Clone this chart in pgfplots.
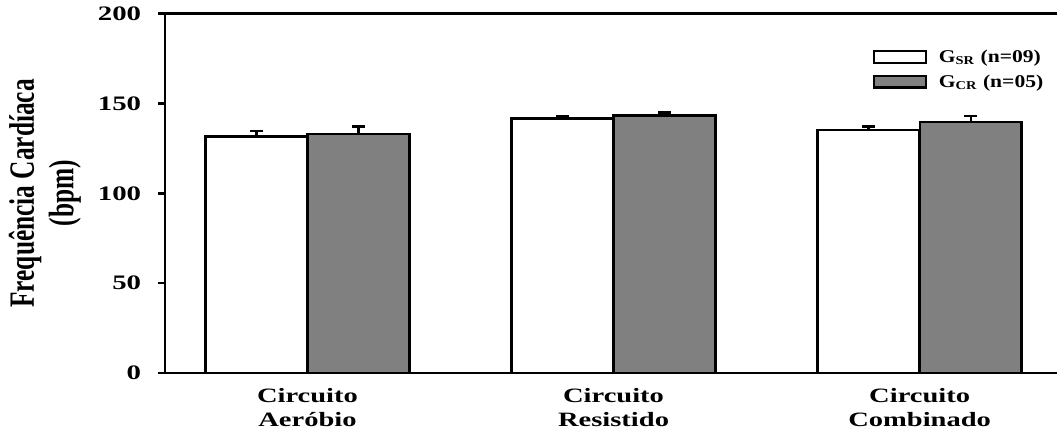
\documentclass[border=0pt]{standalone}
\usepackage{graphicx}
\usepackage{fontspec}
\setmainfont{Liberation Serif}
\usepackage{pgfplots}
\pgfplotsset{compat=1.18}
\usepackage{pgfplotstable}

% wide letterforms used throughout the figure
\newcommand{\sx}[1]{\scalebox{1.4}[1]{#1}}

% heart rate (bpm): mean and upper error per circuit
\pgfplotstableread{
x  y      e
0  131.7  2.9
1  141.7  1.0
2  135.4  1.8
}\gsr
\pgfplotstableread{
x  y      e
0  132.9  4.3
1  143.2  1.8
2  139.8  3.1
}\gcr

\pgfplotsset{
  hrbar/.style={ybar, bar width=0.333, bar shift=0pt, draw=black, fill=#1, line width=1.2pt,
    legend image code/.code={\draw[draw=black, line width=1.2pt, fill=#1] (0pt,-2.9pt) rectangle (26pt,2.9pt);},
    error bars/.cd, y dir=plus, y explicit,
    error bar style={line width=1.2pt, black},
    error mark options={rotate=90, line width=1.2pt, mark size=3.25pt, black}},
}

\begin{document}
\begin{tikzpicture}
\begin{axis}[
  name=ax,
  scale only axis,
  width=446.5pt, height=180pt,
  xmin=-0.465, xmax=2.448,
  ymin=0, ymax=200,
  axis x line*=box,
  axis y line*=left,
  axis line style={line width=1.2pt},
  xtick={0,1,2},
  xticklabels={{\sx{Circuito}\\\sx{Aeróbio}},{\sx{Circuito}\\\sx{Resistido}},{\sx{Circuito}\\\sx{Combinado}}},
  x tick label style={align=center, font=\fontsize{10.2}{12.2}\selectfont\bfseries, yshift=-0.5pt},
  major x tick style={draw=none},
  ytick={0,50,100,150,200},
  yticklabels={\sx{0},\sx{50},\sx{100},\sx{150},\sx{200}},
  y tick label style={font=\fontsize{10.3}{12}\selectfont\bfseries, xshift=-5pt},
  ytick pos=left,
  tick align=outside,
  major tick length=3.5pt,
  major y tick style={line width=1.2pt, black},
  ylabel={\scalebox{1}[1.4]{\begin{tabular}{@{}c@{}}Frequência Cardíaca\\[0.2pt](bpm)\end{tabular}}},
  ylabel style={at={(rel axis cs:-0.1338,0.5)}, anchor=center, font=\fontsize{12.7}{13.9}\selectfont\bfseries},
  legend style={at={(rel axis cs:0.793,0.904)}, anchor=north west, draw=none, fill=none,
    inner sep=0pt, row sep=4pt, font=\fontsize{9}{10.8}\selectfont\bfseries,
    nodes={inner sep=1pt, text depth=0.2pt}},
  legend cell align=left,
  clip=false,
]
\addplot[hrbar=white] table[x expr=\thisrow{x}-0.1667, y=y, y error=e] {\gsr};
\addlegendentry{\hspace{5pt}\scalebox{1.2}[1]{G\textsubscript{SR} (n=09)}}
\addplot[hrbar=gray] table[x expr=\thisrow{x}+0.1667, y=y, y error=e] {\gcr};
\addlegendentry{\hspace{5pt}\scalebox{1.2}[1]{G\textsubscript{CR} (n=05)}}
\end{axis}
\end{tikzpicture}
\end{document}
